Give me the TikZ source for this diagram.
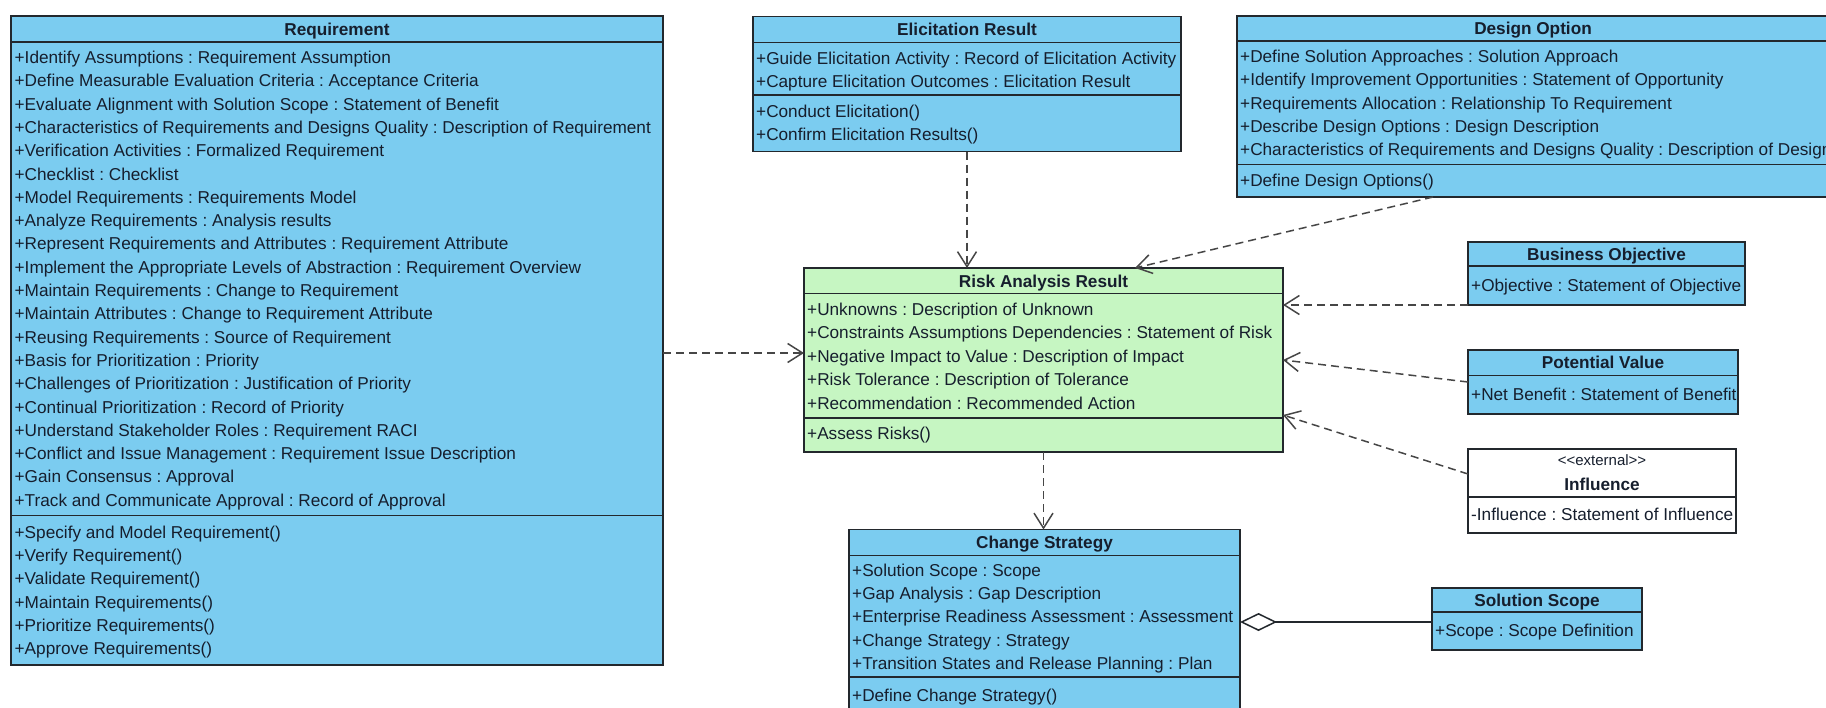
\documentclass[tikz,border=0pt]{standalone}
\usepackage{fontspec}
\setmainfont{Liberation Sans}
\usetikzlibrary{arrows.meta,calc}
\frenchspacing

\definecolor{clsblue}{RGB}{123,204,240}
\definecolor{riskgreen}{RGB}{198,246,194}
\definecolor{clsline}{RGB}{35,40,45}
\definecolor{txt}{RGB}{22,30,45}
\definecolor{depline}{RGB}{70,70,70}

% rows of a class compartment: prefix, x of text, centre of first row, pitch, list
\newcommand\putrows[5]{%
  \foreach \t [count=\i] in {#5} {%
    \node[rowtext] (#1\i) at (#2, {#3 + #4*(\i-1) + 6}) {\t};
  }%
}

\begin{document}
\begin{tikzpicture}[x=1pt,y=-1pt,
  clsbox/.style={draw=clsline, line width=1.7pt, anchor=north west,
    inner sep=0pt, outer sep=0pt},
  sepline/.style={draw=clsline, line width=1.4pt},
  rowtext/.style={anchor=base west, inner sep=0pt,
    font=\fontsize{17.2}{20}\selectfont, text=txt},
  titletext/.style={anchor=base, inner sep=0pt,
    font=\fontsize{17.2}{20}\selectfont\bfseries, text=txt},
  stereotext/.style={anchor=base, inner sep=0pt,
    font=\fontsize{15}{18}\selectfont, text=txt},
  dep/.style={draw=depline, line width=1.5pt, dash pattern=on 8pt off 5pt,
    -{Straight Barb[length=15pt, width=19pt, line width=1.5pt]}},
  agg/.style={draw=clsline, line width=1.5pt,
    {Diamond[open, length=37pt, width=18pt, line width=1.5pt]}-},
]
\useasboundingbox (0,0) rectangle (1826,707);
\clip (0,0) rectangle (1826,707);

% ---------------- Requirement ----------------
\node[clsbox, fill=clsblue, minimum width=652pt, minimum height=649pt] (req) at (11,16) {};
\node[titletext] (req-t) at (337,35) {Requirement};
\draw[sepline] (req.west |- 0,42) -- (req.east |- 0,42);
\draw[sepline] (req.west |- 0,515.5) -- (req.east |- 0,515.5);
\putrows{reqa}{14.5}{57.5}{23.3}{
  +Identify Assumptions : Requirement Assumption,
  +Define Measurable Evaluation Criteria : Acceptance Criteria,
  +Evaluate Alignment with Solution Scope : Statement of Benefit,
  +Characteristics of Requirements and Designs Quality : Description of Requirement,
  +Verification Activities : Formalized Requirement,
  +Checklist : Checklist,
  +Model Requirements : Requirements Model,
  +Analyze Requirements : Analysis results,
  +Represent Requirements and Attributes : Requirement Attribute,
  +Implement the Appropriate Levels of Abstraction : Requirement Overview,
  +Maintain Requirements : Change to Requirement,
  +Maintain Attributes : Change to Requirement Attribute,
  +Reusing Requirements : Source of Requirement,
  +Basis for Prioritization : Priority,
  +Challenges of Prioritization : Justification of Priority,
  +Continual Prioritization : Record of Priority,
  +Understand Stakeholder Roles : Requirement RACI,
  +Conflict and Issue Management : Requirement Issue Description,
  +Gain Consensus : Approval,
  +Track and Communicate Approval : Record of Approval}
\putrows{reqo}{14.5}{532.5}{23.2}{
  +Specify and Model Requirement(),
  +Verify Requirement(),
  +Validate Requirement(),
  +Maintain Requirements(),
  +Prioritize Requirements(),
  +Approve Requirements()}

% ---------------- Elicitation Result ----------------
\node[clsbox, fill=clsblue, minimum width=428pt, minimum height=135pt] (eli) at (753,16.5) {};
\node[titletext] (eli-t) at (967,35.5) {Elicitation Result};
\draw[sepline] (eli.west |- 0,42.3) -- (eli.east |- 0,42.3);
\draw[sepline] (eli.west |- 0,95) -- (eli.east |- 0,95);
\putrows{elia}{756}{58}{23.3}{
  +Guide Elicitation Activity : Record of Elicitation Activity,
  +Capture Elicitation Outcomes : Elicitation Result}
\putrows{elio}{756}{111.5}{23.3}{
  +Conduct Elicitation(),
  +Confirm Elicitation Results()}

% ---------------- Design Option ----------------
\node[clsbox, fill=clsblue, minimum width=600pt, minimum height=181pt] (des) at (1237,16) {};
\node[titletext] (des-t) at (1533,34.5) {Design Option};
\draw[sepline] (des.west |- 0,41) -- (des.east |- 0,41);
\draw[sepline] (des.west |- 0,164.5) -- (des.east |- 0,164.5);
\putrows{desa}{1240}{56.6}{23.3}{
  +Define Solution Approaches : Solution Approach,
  +Identify Improvement Opportunities : Statement of Opportunity,
  +Requirements Allocation : Relationship To Requirement,
  +Describe Design Options : Design Description,
  +Characteristics of Requirements and Designs Quality : Description of Design}
\putrows{deso}{1240}{180.5}{23.3}{+Define Design Options()}

% ---------------- Risk Analysis Result ----------------
\node[clsbox, fill=riskgreen, minimum width=479pt, minimum height=184pt] (risk) at (804,268) {};
\node[titletext] (risk-t) at (1043.5,287) {Risk Analysis Result};
\draw[sepline] (risk.west |- 0,293.5) -- (risk.east |- 0,293.5);
\draw[sepline] (risk.west |- 0,418) -- (risk.east |- 0,418);
\putrows{riska}{807}{309.5}{23.4}{
  +Unknowns : Description of Unknown,
  +Constraints Assumptions Dependencies : Statement of Risk,
  +Negative Impact to Value : Description of Impact,
  +Risk Tolerance : Description of Tolerance,
  +Recommendation : Recommended Action}
\putrows{risko}{807}{433}{23.3}{+Assess Risks()}

% ---------------- Business Objective ----------------
\node[clsbox, fill=clsblue, minimum width=277pt, minimum height=63pt] (bo) at (1468,242) {};
\node[titletext] (bo-t) at (1606.5,260) {Business Objective};
\draw[sepline] (bo.west |- 0,266) -- (bo.east |- 0,266);
\putrows{boa}{1471}{285.5}{23.3}{+Objective : Statement of Objective}

% ---------------- Potential Value ----------------
\node[clsbox, fill=clsblue, minimum width=270pt, minimum height=64pt] (pv) at (1468,350) {};
\node[titletext] (pv-t) at (1603,368.5) {Potential Value};
\draw[sepline] (pv.west |- 0,375.5) -- (pv.east |- 0,375.5);
\putrows{pva}{1471}{394}{23.3}{+Net Benefit : Statement of Benefit}

% ---------------- Influence (external) ----------------
\node[clsbox, fill=white, minimum width=268pt, minimum height=84pt] (infl) at (1468,449) {};
\node[stereotext] (infl-s) at (1602,465.5) {\mbox{<}\mbox{<}external\mbox{>}\mbox{>}};
\node[titletext] (infl-t) at (1602,490) {Influence};
\draw[sepline] (infl.west |- 0,497) -- (infl.east |- 0,497);
\putrows{infla}{1471}{514}{23.3}{-Influence : Statement of Influence}

% ---------------- Change Strategy ----------------
\node[clsbox, fill=clsblue, minimum width=391pt, minimum height=185pt] (chg) at (849,529.5) {};
\node[titletext] (chg-t) at (1044.5,548) {Change Strategy};
\draw[sepline] (chg.west |- 0,555.5) -- (chg.east |- 0,555.5);
\draw[sepline] (chg.west |- 0,677) -- (chg.east |- 0,677);
\putrows{chga}{852}{570.5}{23.2}{
  +Solution Scope : Scope,
  +Gap Analysis : Gap Description,
  +Enterprise Readiness Assessment : Assessment,
  +Change Strategy : Strategy,
  +Transition States and Release Planning : Plan}
\putrows{chgo}{852}{695}{23.3}{+Define Change Strategy()}

% ---------------- Solution Scope ----------------
\node[clsbox, fill=clsblue, minimum width=210pt, minimum height=62pt] (sol) at (1432,588) {};
\node[titletext] (sol-t) at (1537,606) {Solution Scope};
\draw[sepline] (sol.west |- 0,612) -- (sol.east |- 0,612);
\putrows{sola}{1435}{630}{23.3}{+Scope : Scope Definition}

% ---------------- dependencies ----------------
\draw[dep] (req.east |- 0,353) -- (risk.west |- 0,353);
\draw[dep] (eli.south) -- (eli.south |- risk.north);
\draw[dep] ($(des.south west)+(196,0)$) -- ($(risk.north west)+(331,0)$);
\draw[dep] (bo.south west) -- (risk.east |- bo.south west);
\draw[dep] (pv.west) -- (risk.east);
\draw[dep] ($(infl.north west)+(0,25)$) -- ($(risk.north east)+(0,147)$);
\draw[dep] (risk.south) -- (risk.south |- chg.north);

% ---------------- aggregation ----------------
\draw[agg] (chg.east) -- (chg.east -| sol.west);
\end{tikzpicture}
\end{document}
